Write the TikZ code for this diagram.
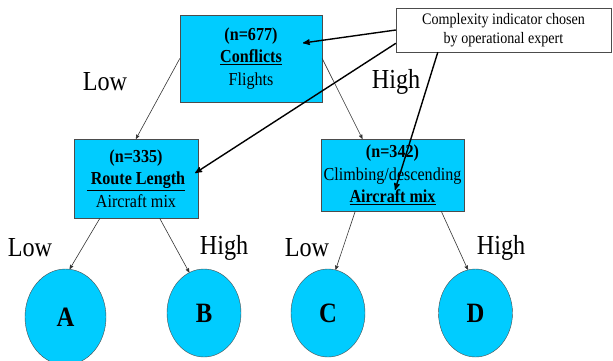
\documentclass[tikz,border=0pt]{standalone}
\usepackage{fontspec}
\setmainfont[FakeStretch=0.88]{Liberation Serif}
\usetikzlibrary{calc,positioning,arrows,shapes.geometric}
\definecolor{leafcyan}{RGB}{0,204,255}

\begin{document}
\begin{tikzpicture}[x=1pt,y=-1pt,>=stealth',
	box/.style={draw=black!70,fill=leafcyan,inner sep=0pt,align=center,font=\fontsize{18.3}{22.5}\selectfont},
	leaf/.style={ellipse,draw=black!70,fill=leafcyan,inner sep=0pt,font=\fontsize{28}{30}\selectfont\bfseries},
	note/.style={draw=black!70,fill=white,inner sep=0pt,align=center,font=\fontsize{16}{19.5}\selectfont},
	lbl/.style={font=\fontsize{27.5}{30}\selectfont},
	branch/.style={->,black!80,line width=0.6pt},
	pointer/.style={->,black,line width=1.4pt}]
	\useasboundingbox (0,0) rectangle (613,360);

	% decision boxes
	\node[box, minimum width=142pt, minimum height=87pt] (conflicts) at (251,58.5) {\textbf{(n=677)}\\\textbf{\underline{Conflicts}}\\Flights};
	\node[box, minimum width=124pt, minimum height=79pt] (route) at (136,178.5) {\textbf{(n=335)}\\\textbf{\underline{ Route Length}}\\Aircraft mix};
	\node[box, minimum width=143pt, minimum height=72pt] (climb) at (392.5,175) {\textbf{(n=342)}\\Climbing/descending\\\textbf{\underline{Aircraft mix}}};

	% leaves
	\node[leaf, minimum width=81pt, minimum height=96pt] (leafA) at (65.5,317) {A};
	\node[leaf, minimum width=74pt, minimum height=88pt] (leafB) at (204,313) {B};
	\node[leaf, minimum width=74pt, minimum height=88pt] (leafC) at (328,313) {C};
	\node[leaf, minimum width=74pt, minimum height=88pt] (leafD) at (475.5,313) {D};

	% branch labels
	\node[lbl] (lowtop) at (105,82) {Low};
	\node[lbl] (hightop) at (396,82) {High};
	\node[lbl] (lowleft) at (30,248) {Low};
	\node[lbl] (highleft) at (224,248) {High};
	\node[lbl] (lowright) at (307,248) {Low};
	\node[lbl] (highright) at (501,248) {High};

	% tree branches
	\draw[branch] (conflicts.west) -- (route.north);
	\draw[branch] (conflicts.east) -- ($(climb.north west)!0.29!(climb.north east)$);
	\draw[branch] ($(route.south west)!0.21!(route.south east)$) -- (leafA.85);
	\draw[branch] ($(route.south west)!0.69!(route.south east)$) -- (leafB.110);
	\draw[branch] ($(climb.south west)!0.24!(climb.south east)$) -- (leafC.80);
	\draw[branch] ($(climb.south west)!0.84!(climb.south east)$) -- (leafD.100);

	% expert note
	\node[note, minimum width=215pt, minimum height=44pt] (expert) at (503.5,30) {Complexity indicator chosen\\by operational expert};
	\draw[pointer] (expert.west) -- ($(conflicts.center)+(52,-15.5)$);
	\draw[pointer] ($(expert.west)!0.6!(expert.south west)$) -- ($(route.east)+(-3,-5.5)$);
	\draw[pointer] ($(expert.south west)!0.195!(expert.south east)$) -- ($(climb.center)+(2.5,15)$);
\end{tikzpicture}
\end{document}
